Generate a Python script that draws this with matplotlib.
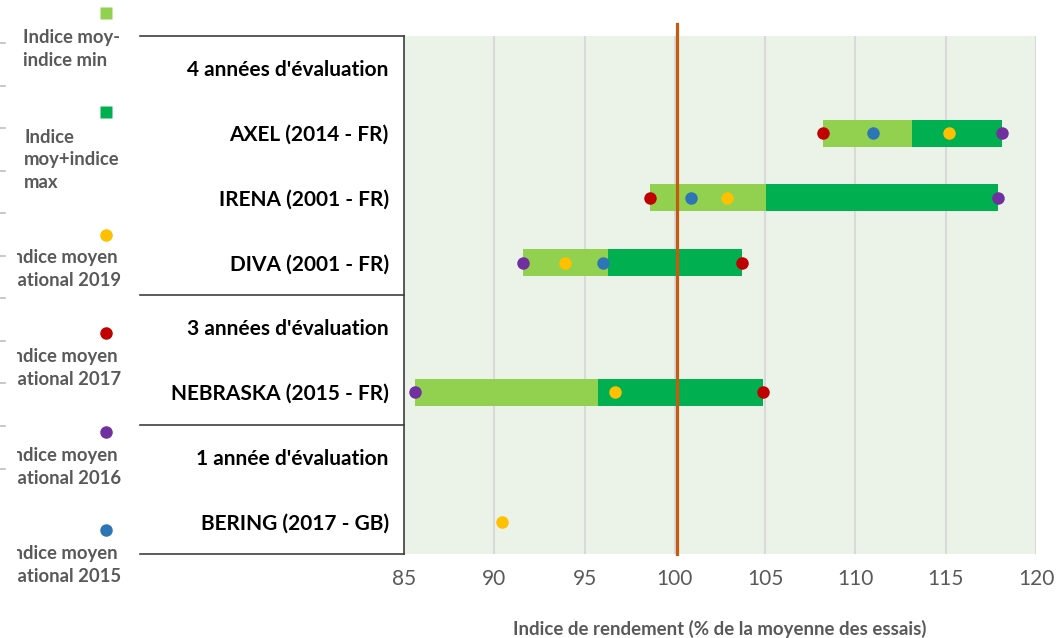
import numpy as np
import matplotlib
matplotlib.use("Agg")
import matplotlib.pyplot as plt
from matplotlib.transforms import Bbox

# Row labels, top to bottom (group headers have no data)
row_labels = [
    "4 années d'évaluation",
    "AXEL (2014 - FR)",
    "IRENA (2001 - FR)",
    "DIVA (2001 - FR)",
    "3 années d'évaluation",
    "NEBRASKA (2015 - FR)",
    "1 année d'évaluation",
    "BERING (2017 - GB)",
]

# National yield index per year (None = not evaluated / header row)
idx_2015 = [None, 111.0, 100.9, 96.0, None, None, None, None]
idx_2016 = [None, 118.1, 117.9, 91.6, None, 85.6, None, None]
idx_2017 = [None, 108.2, 98.6, 103.7, None, 104.9, None, None]
idx_2019 = [None, 115.2, 102.9, 93.9, None, 96.7, None, 90.4]

xticks = [85, 90, 95, 100, 105, 110, 115, 120]
ref_line = 100.1

C_LIGHT = "#92D050"
C_DARK = "#00B050"
C_2019 = "#FFC000"
C_2017 = "#C00000"
C_2016 = "#7030A0"
C_2015 = "#2E75B6"
C_REF = "#C55A11"
C_TXT = "#595959"

plt.rcParams["font.family"] = ["Lato", "DejaVu Sans"]

W, H = 1056, 638
fig = plt.figure(figsize=(W / 100, H / 100), dpi=100)
ax = fig.add_axes([404 / W, 1 - 554 / H, (1036 - 404) / W, (554 - 36) / H])
ax.set_facecolor("#EBF3E8")

n = len(row_labels)
y = np.arange(n)

series = [idx_2015, idx_2016, idx_2017, idx_2019]
vmin, vmean, vmax = [], [], []
for i in range(n):
    vals = [s[i] for s in series if s[i] is not None]
    if len(vals) >= 2:
        vmin.append(min(vals)); vmean.append(np.mean(vals)); vmax.append(max(vals))
    else:
        vmin.append(np.nan); vmean.append(np.nan); vmax.append(np.nan)
vmin, vmean, vmax = map(np.array, (vmin, vmean, vmax))

bh = 0.42
ax.barh(y, vmean - vmin, left=vmin, height=bh, color=C_LIGHT, zorder=3)
ax.barh(y, vmax - vmean, left=vmean, height=bh, color=C_DARK, zorder=3)

ms = 9
for s, c in [(idx_2017, C_2017), (idx_2015, C_2015), (idx_2019, C_2019), (idx_2016, C_2016)]:
    xs = [v for v in s if v is not None]
    ys = [i for i, v in enumerate(s) if v is not None]
    ax.plot(xs, ys, "o", color=c, ms=ms, mec="none", zorder=5, clip_on=False)

# reference line at the trial mean
ax.plot([ref_line, ref_line], [n - 0.5, -0.69], color=C_REF, lw=2.3, zorder=4, clip_on=False)

ax.set_xlim(85, 120)
ax.set_ylim(n - 0.5, -0.5)
ax.set_xticks(xticks)
ax.set_xticklabels([str(t) for t in xticks], color=C_TXT, fontsize=15)
ax.tick_params(axis="x", length=0, pad=11)
ax.xaxis.grid(True, color="#D9D9D9", lw=1.5, zorder=0)
ax.set_axisbelow(True)

ax.set_yticks(y)
ax.set_yticklabels(row_labels, fontsize=15, fontweight="bold", color="black")
ax.tick_params(axis="y", length=0, pad=11)

for sp in ["top", "right", "bottom"]:
    ax.spines[sp].set_visible(False)
ax.spines["left"].set_color("#404040")
ax.spines["left"].set_linewidth(1.2)

ax.set_xlabel("Indice de rendement (% de la moyenne des essais)", fontsize=13.4,
              fontweight="bold", color=C_TXT, labelpad=22)

# group separators of the category axis
trans = ax.get_yaxis_transform()
x0 = (140 - 404) / (1036 - 404)
for yb in [-0.5, 3.5, 5.5, n - 0.5]:
    ax.plot([x0, 0], [yb, yb], color="#404040", lw=1.2, transform=trans, clip_on=False)

# legend column on the left, in pixel coordinates
lg = fig.add_axes([0, 0, 1, 1], facecolor="none")
lg.set_xlim(0, W)
lg.set_ylim(H, 0)
lg.axis("off")

for ty in [43, 86, 128, 171, 213, 256, 298, 341, 383, 426, 469]:
    lg.plot([0, 5], [ty, ty], color="#BFBFBF", lw=1.2)

# legend text box starts at x = 17 px; longer labels are cut at that edge
text_box = Bbox.from_extents(17, 0, W, H)

legend_items = [
    ("s", C_LIGHT, 13, "Indice moy-\nindice min", 23, 49),
    ("s", C_DARK, 112, "Indice\nmoy+indice\nmax", 24, 160),
    ("o", C_2019, 235, "Indice moyen\nnational 2019", 7, 269),
    ("o", C_2017, 333, "Indice moyen\nnational 2017", 7, 368),
    ("o", C_2016, 432, "Indice moyen\nnational 2016", 7, 467),
    ("o", C_2015, 530, "Indice moyen\nnational 2015", 7, 565),
]
for mk, c, my, txt, tx, tyc in legend_items:
    lg.plot([106], [my], mk, color=c, ms=8 if mk == "s" else 9, mec="none")
    t = lg.text(tx, tyc, txt, ha="left", va="center", fontsize=13.3, fontweight="bold",
                color=C_TXT, linespacing=1.42)
    t.set_clip_box(text_box)
    t.set_clip_on(True)

fig.savefig("out.png", dpi=100)
